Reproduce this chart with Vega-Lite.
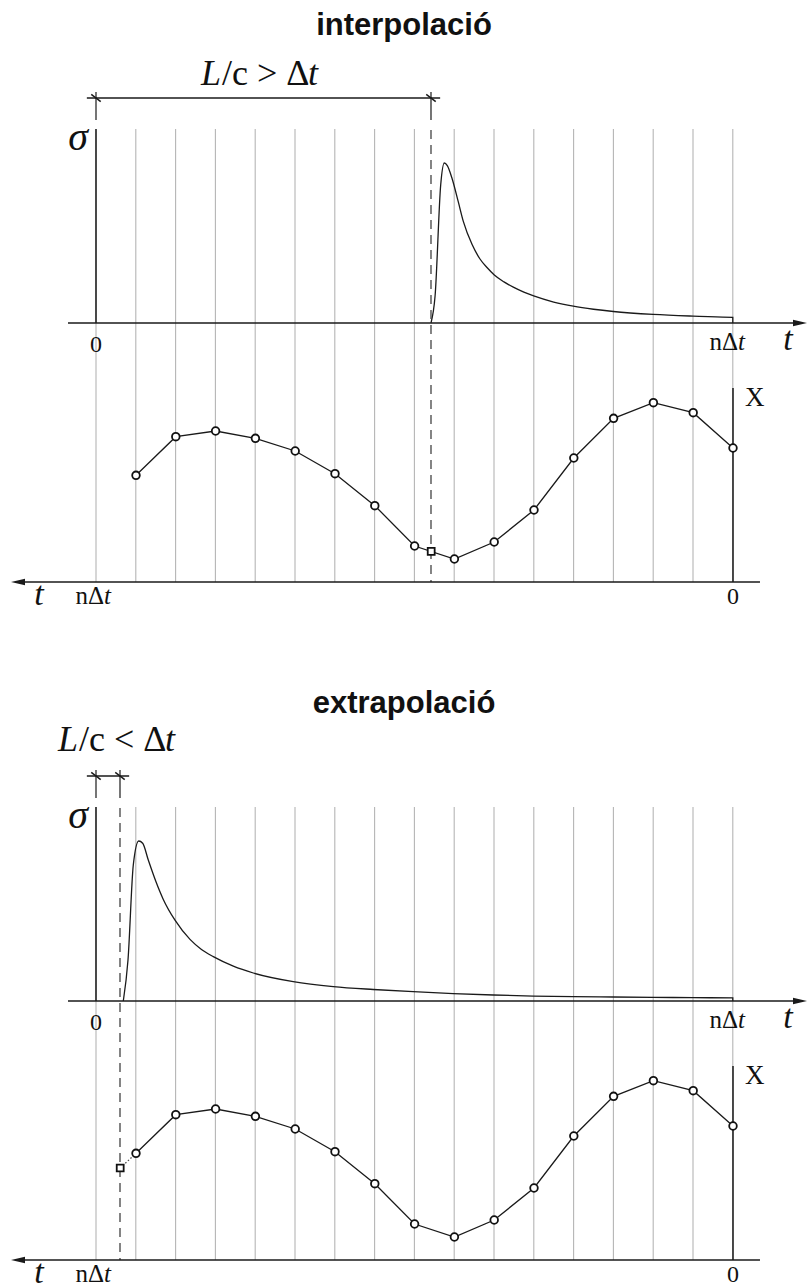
{
  "$schema": "https://vega.github.io/schema/vega-lite/v6.json",
  "padding": 0,
  "background": "white",
  "spacing": 68,
  "bounds": "flush",
  "config": {"view": {"stroke": null}},
  "datasets": {
    "grid": [{"t":0},{"t":1},{"t":2},{"t":3},{"t":4},{"t":5},{"t":6},{"t":7},{"t":8},{"t":9},{"t":10},{"t":11},{"t":12},{"t":13},{"t":14},{"t":15},{"t":16}],
    "history": [
      {"k":0,"v":0.67},{"k":1,"v":0.8465},{"k":2,"v":0.8965},{"k":3,"v":0.8185},
      {"k":4,"v":0.62},{"k":5,"v":0.36},{"k":6,"v":0.2},{"k":7,"v":0.115},
      {"k":8,"v":0.18},{"k":9,"v":0.3815},{"k":10,"v":0.5415},{"k":11,"v":0.655},
      {"k":12,"v":0.7185},{"k":13,"v":0.755},{"k":14,"v":0.7265},{"k":15,"v":0.5335}
    ],
    "pulse_interp": [
      {"i":0,"t":8.417,"s":0},{"i":1,"t":8.52,"s":0.17},{"i":2,"t":8.661,"s":0.864},
      {"i":3,"t":8.751,"s":1.0},{"i":4,"t":8.827,"s":0.983},{"i":5,"t":8.95,"s":0.9},
      {"i":6,"t":9.1,"s":0.76},{"i":7,"t":9.229,"s":0.635},{"i":8,"t":9.45,"s":0.49},
      {"i":9,"t":9.648,"s":0.4},{"i":10,"t":9.83,"s":0.345},{"i":11,"t":10.008,"s":0.3},
      {"i":12,"t":10.25,"s":0.257},{"i":13,"t":10.485,"s":0.224},{"i":14,"t":10.75,"s":0.193},
      {"i":15,"t":10.997,"s":0.169},{"i":16,"t":11.5,"s":0.131},{"i":17,"t":11.992,"s":0.105},
      {"i":18,"t":12.5,"s":0.086},{"i":19,"t":13,"s":0.072},{"i":20,"t":14,"s":0.054},
      {"i":21,"t":15,"s":0.043},{"i":22,"t":16,"s":0.035},{"i":23,"t":16,"s":0}
    ],
    "pulse_extrap": [
      {"i":0,"t":0.686,"s":0},{"i":1,"t":0.804,"s":0.256},{"i":2,"t":0.937,"s":0.85},
      {"i":3,"t":1.073,"s":1.0},{"i":4,"t":1.173,"s":0.986},{"i":5,"t":1.314,"s":0.881},
      {"i":6,"t":1.5,"s":0.75},{"i":7,"t":1.691,"s":0.635},{"i":8,"t":1.985,"s":0.505},
      {"i":9,"t":2.362,"s":0.385},{"i":10,"t":2.65,"s":0.322},{"i":11,"t":2.947,"s":0.277},
      {"i":12,"t":3.45,"s":0.218},{"i":13,"t":3.952,"s":0.175},{"i":14,"t":4.957,"s":0.121},
      {"i":15,"t":5.962,"s":0.09},{"i":16,"t":6.967,"s":0.072},{"i":17,"t":7.972,"s":0.058},
      {"i":18,"t":8.977,"s":0.046},{"i":19,"t":9.982,"s":0.0375},{"i":20,"t":10.987,"s":0.031},
      {"i":21,"t":11.992,"s":0.027},{"i":22,"t":12.997,"s":0.025},{"i":23,"t":14.003,"s":0.023},
      {"i":24,"t":15.008,"s":0.021},{"i":25,"t":16,"s":0.019},{"i":26,"t":16,"s":0}
    ]
  },
  "vconcat": [
    {
      "width": 808,
      "height": 610,
      "resolve": {"scale": {"x": "independent", "y": "independent"}},
      "layer": [
        {"data": {"name": "grid"}, "mark": {"type": "rule", "color": "#b5b5b5", "strokeWidth": 1.1},
         "encoding": {"x": {"field": "t", "type": "quantitative", "scale": {"domain": [-2.41206, 17.88945], "nice": false, "zero": false}, "axis": null},
                      "y": {"datum": 1.2125, "type": "quantitative", "scale": {"domain": [-1.79375, 2.01875], "nice": false, "zero": false}, "axis": null},
                      "y2": {"datum": -1.61875}}},
        {"data": {"values": [{}]}, "mark": {"type": "rule", "color": "#1a1a1a", "strokeWidth": 1.5},
         "encoding": {"x": {"datum": 0, "type": "quantitative", "scale": {"domain": [-2.41206, 17.88945], "nice": false, "zero": false}, "axis": null},
                      "y": {"datum": 0, "type": "quantitative", "scale": {"domain": [-1.79375, 2.01875], "nice": false, "zero": false}, "axis": null},
                      "y2": {"datum": 1.2125}}},
        {"data": {"values": [{}]}, "mark": {"type": "rule", "color": "#1a1a1a", "strokeWidth": 1.5},
         "encoding": {"x": {"datum": -0.7035, "type": "quantitative", "scale": {"domain": [-2.41206, 17.88945], "nice": false, "zero": false}, "axis": null},
                      "x2": {"datum": 17.6},
                      "y": {"datum": 0, "type": "quantitative", "scale": {"domain": [-1.79375, 2.01875], "nice": false, "zero": false}, "axis": null}}},
        {"data": {"values": [{}]}, "mark": {"type": "point", "shape": "M1,0L-1,-0.45L-1,0.45Z", "filled": true, "color": "#1a1a1a", "opacity": 1, "size": 196},
         "encoding": {"x": {"datum": 17.688, "type": "quantitative", "scale": {"domain": [-2.41206, 17.88945], "nice": false, "zero": false}, "axis": null},
                      "y": {"datum": 0, "type": "quantitative", "scale": {"domain": [-1.79375, 2.01875], "nice": false, "zero": false}, "axis": null}}},
        {"data": {"name": "pulse_interp"}, "mark": {"type": "line", "color": "#1a1a1a", "strokeWidth": 1.3, "interpolate": "monotone"},
         "encoding": {"x": {"field": "t", "type": "quantitative", "scale": {"domain": [-2.41206, 17.88945], "nice": false, "zero": false}, "axis": null},
                      "y": {"field": "s", "type": "quantitative", "scale": {"domain": [-1.79375, 2.01875], "nice": false, "zero": false}, "axis": null},
                      "order": {"field": "i", "type": "quantitative"}}},
        {"data": {"values": [{}]}, "mark": {"type": "rule", "color": "#333333", "strokeWidth": 1.2, "strokeDash": [9, 6]},
         "encoding": {"x": {"datum": 8.417, "type": "quantitative", "scale": {"domain": [-2.41206, 17.88945], "nice": false, "zero": false}, "axis": null},
                      "y": {"datum": 1.20625, "type": "quantitative", "scale": {"domain": [-1.79375, 2.01875], "nice": false, "zero": false}, "axis": null},
                      "y2": {"datum": -1.61875}}},
        {"data": {"values": [{"t": 0}, {"t": 8.417}]}, "mark": {"type": "rule", "color": "#1a1a1a", "strokeWidth": 1.2},
         "encoding": {"x": {"field": "t", "type": "quantitative", "scale": {"domain": [-2.41206, 17.88945], "nice": false, "zero": false}, "axis": null},
                      "y": {"datum": 1.44375, "type": "quantitative", "scale": {"domain": [-1.79375, 2.01875], "nice": false, "zero": false}, "axis": null},
                      "y2": {"datum": 1.26875}}},
        {"data": {"values": [{}]}, "mark": {"type": "rule", "color": "#1a1a1a", "strokeWidth": 1.3},
         "encoding": {"x": {"datum": -0.23, "type": "quantitative", "scale": {"domain": [-2.41206, 17.88945], "nice": false, "zero": false}, "axis": null},
                      "x2": {"datum": 8.647},
                      "y": {"datum": 1.40625, "type": "quantitative", "scale": {"domain": [-1.79375, 2.01875], "nice": false, "zero": false}, "axis": null}}},
        {"data": {"values": [{"t": 0}, {"t": 8.417}]}, "mark": {"type": "point", "shape": "M-1,-0.75L1,0.75", "filled": false, "color": "#1a1a1a", "opacity": 1, "strokeWidth": 1.5, "size": 90},
         "encoding": {"x": {"field": "t", "type": "quantitative", "scale": {"domain": [-2.41206, 17.88945], "nice": false, "zero": false}, "axis": null},
                      "y": {"datum": 1.40625, "type": "quantitative", "scale": {"domain": [-1.79375, 2.01875], "nice": false, "zero": false}, "axis": null}}},
        {"data": {"values": [{}]}, "mark": {"type": "rule", "color": "#1a1a1a", "strokeWidth": 1.5},
         "encoding": {"x": {"datum": 17.965, "type": "quantitative", "scale": {"domain": [-1.88442, 18.41709], "reverse": true, "nice": false, "zero": false}, "axis": null},
                      "x2": {"datum": -0.678},
                      "y": {"datum": 0, "type": "quantitative", "scale": {"domain": [-0.14, 2.91], "nice": false, "zero": false}, "axis": null}}},
        {"data": {"values": [{}]}, "mark": {"type": "point", "shape": "M-1,0L1,-0.45L1,0.45Z", "filled": true, "color": "#1a1a1a", "opacity": 1, "size": 196},
         "encoding": {"x": {"datum": 17.965, "type": "quantitative", "scale": {"domain": [-1.88442, 18.41709], "reverse": true, "nice": false, "zero": false}, "axis": null},
                      "y": {"datum": 0, "type": "quantitative", "scale": {"domain": [-0.14, 2.91], "nice": false, "zero": false}, "axis": null}}},
        {"data": {"values": [{}]}, "mark": {"type": "rule", "color": "#1a1a1a", "strokeWidth": 1.5},
         "encoding": {"x": {"datum": 0, "type": "quantitative", "scale": {"domain": [-1.88442, 18.41709], "reverse": true, "nice": false, "zero": false}, "axis": null},
                      "y": {"datum": 0, "type": "quantitative", "scale": {"domain": [-0.14, 2.91], "nice": false, "zero": false}, "axis": null},
                      "y2": {"datum": 0.97}}},
        {"data": {"name": "history"}, "mark": {"type": "line", "color": "#1a1a1a", "strokeWidth": 1.3},
         "encoding": {"x": {"field": "k", "type": "quantitative", "scale": {"domain": [-1.88442, 18.41709], "reverse": true, "nice": false, "zero": false}, "axis": null},
                      "y": {"field": "v", "type": "quantitative", "scale": {"domain": [-0.14, 2.91], "nice": false, "zero": false}, "axis": null}}},
        {"data": {"name": "history"}, "mark": {"type": "point", "shape": "circle", "filled": true, "fill": "white", "stroke": "#111111", "strokeWidth": 1.8, "opacity": 1, "size": 58},
         "encoding": {"x": {"field": "k", "type": "quantitative", "scale": {"domain": [-1.88442, 18.41709], "reverse": true, "nice": false, "zero": false}, "axis": null},
                      "y": {"field": "v", "type": "quantitative", "scale": {"domain": [-0.14, 2.91], "nice": false, "zero": false}, "axis": null}}},
        {"data": {"values": [{"k": 7.583, "v": 0.153}]}, "mark": {"type": "point", "shape": "square", "filled": true, "fill": "white", "stroke": "#111111", "strokeWidth": 1.8, "opacity": 1, "size": 48},
         "encoding": {"x": {"field": "k", "type": "quantitative", "scale": {"domain": [-1.88442, 18.41709], "reverse": true, "nice": false, "zero": false}, "axis": null},
                      "y": {"field": "v", "type": "quantitative", "scale": {"domain": [-0.14, 2.91], "nice": false, "zero": false}, "axis": null}}},
        {"data": {"values": [{}]}, "mark": {"type": "text", "text": "interpolació", "font": "Liberation Sans", "fontWeight": "bold", "fontSize": 31, "align": "center", "baseline": "alphabetic", "color": "#111111"},
         "encoding": {"x": {"datum": 7.739, "type": "quantitative", "scale": {"domain": [-2.41206, 17.88945], "nice": false, "zero": false}, "axis": null},
                      "y": {"datum": 1.8, "type": "quantitative", "scale": {"domain": [-1.79375, 2.01875], "nice": false, "zero": false}, "axis": null}}},
        {"data": {"values": [{}]}, "mark": {"type": "text", "text": "L", "font": "Liberation Serif", "fontStyle": "italic", "fontSize": 36, "align": "left", "baseline": "alphabetic", "color": "#111111"},
         "encoding": {"x": {"datum": 2.64, "type": "quantitative", "scale": {"domain": [-2.41206, 17.88945], "nice": false, "zero": false}, "axis": null},
                      "y": {"datum": 1.49, "type": "quantitative", "scale": {"domain": [-1.79375, 2.01875], "nice": false, "zero": false}, "axis": null}}},
        {"data": {"values": [{}]}, "mark": {"type": "text", "text": "/c > Δ", "font": "Liberation Serif", "fontSize": 36, "align": "left", "baseline": "alphabetic", "dx": 21, "color": "#111111"},
         "encoding": {"x": {"datum": 2.64, "type": "quantitative", "scale": {"domain": [-2.41206, 17.88945], "nice": false, "zero": false}, "axis": null},
                      "y": {"datum": 1.49, "type": "quantitative", "scale": {"domain": [-1.79375, 2.01875], "nice": false, "zero": false}, "axis": null}}},
        {"data": {"values": [{}]}, "mark": {"type": "text", "text": "t", "font": "Liberation Serif", "fontStyle": "italic", "fontSize": 36, "align": "left", "baseline": "alphabetic", "dx": 107, "color": "#111111"},
         "encoding": {"x": {"datum": 2.64, "type": "quantitative", "scale": {"domain": [-2.41206, 17.88945], "nice": false, "zero": false}, "axis": null},
                      "y": {"datum": 1.49, "type": "quantitative", "scale": {"domain": [-1.79375, 2.01875], "nice": false, "zero": false}, "axis": null}}},
        {"data": {"values": [{}]}, "mark": {"type": "text", "text": "σ", "font": "Liberation Serif", "fontStyle": "italic", "fontSize": 40, "align": "right", "baseline": "alphabetic", "color": "#111111"},
         "encoding": {"x": {"datum": -0.201, "type": "quantitative", "scale": {"domain": [-2.41206, 17.88945], "nice": false, "zero": false}, "axis": null},
                      "y": {"datum": 1.08125, "type": "quantitative", "scale": {"domain": [-1.79375, 2.01875], "nice": false, "zero": false}, "axis": null}}},
        {"data": {"values": [{}]}, "mark": {"type": "text", "text": "0", "font": "Liberation Serif", "fontSize": 24, "align": "center", "baseline": "alphabetic", "color": "#111111"},
         "encoding": {"x": {"datum": 0, "type": "quantitative", "scale": {"domain": [-2.41206, 17.88945], "nice": false, "zero": false}, "axis": null},
                      "y": {"datum": -0.18125, "type": "quantitative", "scale": {"domain": [-1.79375, 2.01875], "nice": false, "zero": false}, "axis": null}}},
        {"data": {"values": [{}]}, "mark": {"type": "text", "text": "nΔ", "font": "Liberation Serif", "fontSize": 25, "align": "right", "baseline": "alphabetic", "color": "#111111"},
         "encoding": {"x": {"datum": 16.131, "type": "quantitative", "scale": {"domain": [-2.41206, 17.88945], "nice": false, "zero": false}, "axis": null},
                      "y": {"datum": -0.16875, "type": "quantitative", "scale": {"domain": [-1.79375, 2.01875], "nice": false, "zero": false}, "axis": null}}},
        {"data": {"values": [{}]}, "mark": {"type": "text", "text": "t", "font": "Liberation Serif", "fontStyle": "italic", "fontSize": 25, "align": "left", "baseline": "alphabetic", "color": "#111111"},
         "encoding": {"x": {"datum": 16.131, "type": "quantitative", "scale": {"domain": [-2.41206, 17.88945], "nice": false, "zero": false}, "axis": null},
                      "y": {"datum": -0.16875, "type": "quantitative", "scale": {"domain": [-1.79375, 2.01875], "nice": false, "zero": false}, "axis": null}}},
        {"data": {"values": [{}]}, "mark": {"type": "text", "text": "t", "font": "Liberation Serif", "fontStyle": "italic", "fontSize": 34, "align": "center", "baseline": "alphabetic", "color": "#111111"},
         "encoding": {"x": {"datum": 17.387, "type": "quantitative", "scale": {"domain": [-2.41206, 17.88945], "nice": false, "zero": false}, "axis": null},
                      "y": {"datum": -0.16875, "type": "quantitative", "scale": {"domain": [-1.79375, 2.01875], "nice": false, "zero": false}, "axis": null}}},
        {"data": {"values": [{}]}, "mark": {"type": "text", "text": "t", "font": "Liberation Serif", "fontStyle": "italic", "fontSize": 34, "align": "center", "baseline": "alphabetic", "color": "#111111"},
         "encoding": {"x": {"datum": 17.437, "type": "quantitative", "scale": {"domain": [-1.88442, 18.41709], "reverse": true, "nice": false, "zero": false}, "axis": null},
                      "y": {"datum": -0.115, "type": "quantitative", "scale": {"domain": [-0.14, 2.91], "nice": false, "zero": false}, "axis": null}}},
        {"data": {"values": [{}]}, "mark": {"type": "text", "text": "nΔ", "font": "Liberation Serif", "fontSize": 25, "align": "right", "baseline": "alphabetic", "color": "#111111"},
         "encoding": {"x": {"datum": 15.804, "type": "quantitative", "scale": {"domain": [-1.88442, 18.41709], "reverse": true, "nice": false, "zero": false}, "axis": null},
                      "y": {"datum": -0.11, "type": "quantitative", "scale": {"domain": [-0.14, 2.91], "nice": false, "zero": false}, "axis": null}}},
        {"data": {"values": [{}]}, "mark": {"type": "text", "text": "t", "font": "Liberation Serif", "fontStyle": "italic", "fontSize": 25, "align": "left", "baseline": "alphabetic", "color": "#111111"},
         "encoding": {"x": {"datum": 15.804, "type": "quantitative", "scale": {"domain": [-1.88442, 18.41709], "reverse": true, "nice": false, "zero": false}, "axis": null},
                      "y": {"datum": -0.11, "type": "quantitative", "scale": {"domain": [-0.14, 2.91], "nice": false, "zero": false}, "axis": null}}},
        {"data": {"values": [{}]}, "mark": {"type": "text", "text": "0", "font": "Liberation Serif", "fontSize": 24, "align": "center", "baseline": "alphabetic", "color": "#111111"},
         "encoding": {"x": {"datum": 0, "type": "quantitative", "scale": {"domain": [-1.88442, 18.41709], "reverse": true, "nice": false, "zero": false}, "axis": null},
                      "y": {"datum": -0.11, "type": "quantitative", "scale": {"domain": [-0.14, 2.91], "nice": false, "zero": false}, "axis": null}}},
        {"data": {"values": [{}]}, "mark": {"type": "text", "text": "X", "font": "Liberation Serif", "fontSize": 27, "align": "left", "baseline": "alphabetic", "color": "#111111"},
         "encoding": {"x": {"datum": -0.3015, "type": "quantitative", "scale": {"domain": [-1.88442, 18.41709], "reverse": true, "nice": false, "zero": false}, "axis": null},
                      "y": {"datum": 0.88, "type": "quantitative", "scale": {"domain": [-0.14, 2.91], "nice": false, "zero": false}, "axis": null}}}
      ]
    },
    {
      "width": 808,
      "height": 610,
      "resolve": {"scale": {"x": "independent", "y": "independent"}},
      "layer": [
        {"data": {"name": "grid"}, "mark": {"type": "rule", "color": "#b5b5b5", "strokeWidth": 1.1},
         "encoding": {"x": {"field": "t", "type": "quantitative", "scale": {"domain": [-2.41206, 17.88945], "nice": false, "zero": false}, "axis": null},
                      "y": {"datum": 1.2125, "type": "quantitative", "scale": {"domain": [-1.79375, 2.01875], "nice": false, "zero": false}, "axis": null},
                      "y2": {"datum": -1.61875}}},
        {"data": {"values": [{}]}, "mark": {"type": "rule", "color": "#1a1a1a", "strokeWidth": 1.5},
         "encoding": {"x": {"datum": 0, "type": "quantitative", "scale": {"domain": [-2.41206, 17.88945], "nice": false, "zero": false}, "axis": null},
                      "y": {"datum": 0, "type": "quantitative", "scale": {"domain": [-1.79375, 2.01875], "nice": false, "zero": false}, "axis": null},
                      "y2": {"datum": 1.2125}}},
        {"data": {"values": [{}]}, "mark": {"type": "rule", "color": "#1a1a1a", "strokeWidth": 1.5},
         "encoding": {"x": {"datum": -0.7035, "type": "quantitative", "scale": {"domain": [-2.41206, 17.88945], "nice": false, "zero": false}, "axis": null},
                      "x2": {"datum": 17.6},
                      "y": {"datum": 0, "type": "quantitative", "scale": {"domain": [-1.79375, 2.01875], "nice": false, "zero": false}, "axis": null}}},
        {"data": {"values": [{}]}, "mark": {"type": "point", "shape": "M1,0L-1,-0.45L-1,0.45Z", "filled": true, "color": "#1a1a1a", "opacity": 1, "size": 196},
         "encoding": {"x": {"datum": 17.688, "type": "quantitative", "scale": {"domain": [-2.41206, 17.88945], "nice": false, "zero": false}, "axis": null},
                      "y": {"datum": 0, "type": "quantitative", "scale": {"domain": [-1.79375, 2.01875], "nice": false, "zero": false}, "axis": null}}},
        {"data": {"name": "pulse_extrap"}, "mark": {"type": "line", "color": "#1a1a1a", "strokeWidth": 1.3, "interpolate": "monotone"},
         "encoding": {"x": {"field": "t", "type": "quantitative", "scale": {"domain": [-2.41206, 17.88945], "nice": false, "zero": false}, "axis": null},
                      "y": {"field": "s", "type": "quantitative", "scale": {"domain": [-1.79375, 2.01875], "nice": false, "zero": false}, "axis": null},
                      "order": {"field": "i", "type": "quantitative"}}},
        {"data": {"values": [{}]}, "mark": {"type": "rule", "color": "#333333", "strokeWidth": 1.2, "strokeDash": [9, 6]},
         "encoding": {"x": {"datum": 0.603, "type": "quantitative", "scale": {"domain": [-2.41206, 17.88945], "nice": false, "zero": false}, "axis": null},
                      "y": {"datum": 1.20625, "type": "quantitative", "scale": {"domain": [-1.79375, 2.01875], "nice": false, "zero": false}, "axis": null},
                      "y2": {"datum": -1.61875}}},
        {"data": {"values": [{"t": 0}, {"t": 0.603}]}, "mark": {"type": "rule", "color": "#1a1a1a", "strokeWidth": 1.2},
         "encoding": {"x": {"field": "t", "type": "quantitative", "scale": {"domain": [-2.41206, 17.88945], "nice": false, "zero": false}, "axis": null},
                      "y": {"datum": 1.44375, "type": "quantitative", "scale": {"domain": [-1.79375, 2.01875], "nice": false, "zero": false}, "axis": null},
                      "y2": {"datum": 1.26875}}},
        {"data": {"values": [{}]}, "mark": {"type": "rule", "color": "#1a1a1a", "strokeWidth": 1.3},
         "encoding": {"x": {"datum": -0.23, "type": "quantitative", "scale": {"domain": [-2.41206, 17.88945], "nice": false, "zero": false}, "axis": null},
                      "x2": {"datum": 0.833},
                      "y": {"datum": 1.40625, "type": "quantitative", "scale": {"domain": [-1.79375, 2.01875], "nice": false, "zero": false}, "axis": null}}},
        {"data": {"values": [{"t": 0}, {"t": 0.603}]}, "mark": {"type": "point", "shape": "M-1,-0.75L1,0.75", "filled": false, "color": "#1a1a1a", "opacity": 1, "strokeWidth": 1.5, "size": 90},
         "encoding": {"x": {"field": "t", "type": "quantitative", "scale": {"domain": [-2.41206, 17.88945], "nice": false, "zero": false}, "axis": null},
                      "y": {"datum": 1.40625, "type": "quantitative", "scale": {"domain": [-1.79375, 2.01875], "nice": false, "zero": false}, "axis": null}}},
        {"data": {"values": [{}]}, "mark": {"type": "rule", "color": "#1a1a1a", "strokeWidth": 1.5},
         "encoding": {"x": {"datum": 17.965, "type": "quantitative", "scale": {"domain": [-1.88442, 18.41709], "reverse": true, "nice": false, "zero": false}, "axis": null},
                      "x2": {"datum": -0.678},
                      "y": {"datum": 0, "type": "quantitative", "scale": {"domain": [-0.14, 2.91], "nice": false, "zero": false}, "axis": null}}},
        {"data": {"values": [{}]}, "mark": {"type": "point", "shape": "M-1,0L1,-0.45L1,0.45Z", "filled": true, "color": "#1a1a1a", "opacity": 1, "size": 196},
         "encoding": {"x": {"datum": 17.965, "type": "quantitative", "scale": {"domain": [-1.88442, 18.41709], "reverse": true, "nice": false, "zero": false}, "axis": null},
                      "y": {"datum": 0, "type": "quantitative", "scale": {"domain": [-0.14, 2.91], "nice": false, "zero": false}, "axis": null}}},
        {"data": {"values": [{}]}, "mark": {"type": "rule", "color": "#1a1a1a", "strokeWidth": 1.5},
         "encoding": {"x": {"datum": 0, "type": "quantitative", "scale": {"domain": [-1.88442, 18.41709], "reverse": true, "nice": false, "zero": false}, "axis": null},
                      "y": {"datum": 0, "type": "quantitative", "scale": {"domain": [-0.14, 2.91], "nice": false, "zero": false}, "axis": null},
                      "y2": {"datum": 0.97}}},
        {"data": {"values": [{"k": 15, "v": 0.5335}, {"k": 15.397, "v": 0.46}]}, "mark": {"type": "line", "color": "#444444", "strokeWidth": 1.2, "strokeDash": [1.5, 2]},
         "encoding": {"x": {"field": "k", "type": "quantitative", "scale": {"domain": [-1.88442, 18.41709], "reverse": true, "nice": false, "zero": false}, "axis": null},
                      "y": {"field": "v", "type": "quantitative", "scale": {"domain": [-0.14, 2.91], "nice": false, "zero": false}, "axis": null}}},
        {"data": {"name": "history"}, "mark": {"type": "line", "color": "#1a1a1a", "strokeWidth": 1.3},
         "encoding": {"x": {"field": "k", "type": "quantitative", "scale": {"domain": [-1.88442, 18.41709], "reverse": true, "nice": false, "zero": false}, "axis": null},
                      "y": {"field": "v", "type": "quantitative", "scale": {"domain": [-0.14, 2.91], "nice": false, "zero": false}, "axis": null}}},
        {"data": {"name": "history"}, "mark": {"type": "point", "shape": "circle", "filled": true, "fill": "white", "stroke": "#111111", "strokeWidth": 1.8, "opacity": 1, "size": 58},
         "encoding": {"x": {"field": "k", "type": "quantitative", "scale": {"domain": [-1.88442, 18.41709], "reverse": true, "nice": false, "zero": false}, "axis": null},
                      "y": {"field": "v", "type": "quantitative", "scale": {"domain": [-0.14, 2.91], "nice": false, "zero": false}, "axis": null}}},
        {"data": {"values": [{"k": 15.397, "v": 0.46}]}, "mark": {"type": "point", "shape": "square", "filled": true, "fill": "white", "stroke": "#111111", "strokeWidth": 1.8, "opacity": 1, "size": 48},
         "encoding": {"x": {"field": "k", "type": "quantitative", "scale": {"domain": [-1.88442, 18.41709], "reverse": true, "nice": false, "zero": false}, "axis": null},
                      "y": {"field": "v", "type": "quantitative", "scale": {"domain": [-0.14, 2.91], "nice": false, "zero": false}, "axis": null}}},
        {"data": {"values": [{}]}, "mark": {"type": "text", "text": "extrapolació", "font": "Liberation Sans", "fontWeight": "bold", "fontSize": 31, "align": "center", "baseline": "alphabetic", "color": "#111111"},
         "encoding": {"x": {"datum": 7.739, "type": "quantitative", "scale": {"domain": [-2.41206, 17.88945], "nice": false, "zero": false}, "axis": null},
                      "y": {"datum": 1.8, "type": "quantitative", "scale": {"domain": [-1.79375, 2.01875], "nice": false, "zero": false}, "axis": null}}},
        {"data": {"values": [{}]}, "mark": {"type": "text", "text": "L", "font": "Liberation Serif", "fontStyle": "italic", "fontSize": 36, "align": "left", "baseline": "alphabetic", "color": "#111111"},
         "encoding": {"x": {"datum": -0.9548, "type": "quantitative", "scale": {"domain": [-2.41206, 17.88945], "nice": false, "zero": false}, "axis": null},
                      "y": {"datum": 1.5625, "type": "quantitative", "scale": {"domain": [-1.79375, 2.01875], "nice": false, "zero": false}, "axis": null}}},
        {"data": {"values": [{}]}, "mark": {"type": "text", "text": "/c < Δ", "font": "Liberation Serif", "fontSize": 36, "align": "left", "baseline": "alphabetic", "dx": 21, "color": "#111111"},
         "encoding": {"x": {"datum": -0.9548, "type": "quantitative", "scale": {"domain": [-2.41206, 17.88945], "nice": false, "zero": false}, "axis": null},
                      "y": {"datum": 1.5625, "type": "quantitative", "scale": {"domain": [-1.79375, 2.01875], "nice": false, "zero": false}, "axis": null}}},
        {"data": {"values": [{}]}, "mark": {"type": "text", "text": "t", "font": "Liberation Serif", "fontStyle": "italic", "fontSize": 36, "align": "left", "baseline": "alphabetic", "dx": 107, "color": "#111111"},
         "encoding": {"x": {"datum": -0.9548, "type": "quantitative", "scale": {"domain": [-2.41206, 17.88945], "nice": false, "zero": false}, "axis": null},
                      "y": {"datum": 1.5625, "type": "quantitative", "scale": {"domain": [-1.79375, 2.01875], "nice": false, "zero": false}, "axis": null}}},
        {"data": {"values": [{}]}, "mark": {"type": "text", "text": "σ", "font": "Liberation Serif", "fontStyle": "italic", "fontSize": 40, "align": "right", "baseline": "alphabetic", "color": "#111111"},
         "encoding": {"x": {"datum": -0.201, "type": "quantitative", "scale": {"domain": [-2.41206, 17.88945], "nice": false, "zero": false}, "axis": null},
                      "y": {"datum": 1.08125, "type": "quantitative", "scale": {"domain": [-1.79375, 2.01875], "nice": false, "zero": false}, "axis": null}}},
        {"data": {"values": [{}]}, "mark": {"type": "text", "text": "0", "font": "Liberation Serif", "fontSize": 24, "align": "center", "baseline": "alphabetic", "color": "#111111"},
         "encoding": {"x": {"datum": 0, "type": "quantitative", "scale": {"domain": [-2.41206, 17.88945], "nice": false, "zero": false}, "axis": null},
                      "y": {"datum": -0.18125, "type": "quantitative", "scale": {"domain": [-1.79375, 2.01875], "nice": false, "zero": false}, "axis": null}}},
        {"data": {"values": [{}]}, "mark": {"type": "text", "text": "nΔ", "font": "Liberation Serif", "fontSize": 25, "align": "right", "baseline": "alphabetic", "color": "#111111"},
         "encoding": {"x": {"datum": 16.131, "type": "quantitative", "scale": {"domain": [-2.41206, 17.88945], "nice": false, "zero": false}, "axis": null},
                      "y": {"datum": -0.16875, "type": "quantitative", "scale": {"domain": [-1.79375, 2.01875], "nice": false, "zero": false}, "axis": null}}},
        {"data": {"values": [{}]}, "mark": {"type": "text", "text": "t", "font": "Liberation Serif", "fontStyle": "italic", "fontSize": 25, "align": "left", "baseline": "alphabetic", "color": "#111111"},
         "encoding": {"x": {"datum": 16.131, "type": "quantitative", "scale": {"domain": [-2.41206, 17.88945], "nice": false, "zero": false}, "axis": null},
                      "y": {"datum": -0.16875, "type": "quantitative", "scale": {"domain": [-1.79375, 2.01875], "nice": false, "zero": false}, "axis": null}}},
        {"data": {"values": [{}]}, "mark": {"type": "text", "text": "t", "font": "Liberation Serif", "fontStyle": "italic", "fontSize": 34, "align": "center", "baseline": "alphabetic", "color": "#111111"},
         "encoding": {"x": {"datum": 17.387, "type": "quantitative", "scale": {"domain": [-2.41206, 17.88945], "nice": false, "zero": false}, "axis": null},
                      "y": {"datum": -0.16875, "type": "quantitative", "scale": {"domain": [-1.79375, 2.01875], "nice": false, "zero": false}, "axis": null}}},
        {"data": {"values": [{}]}, "mark": {"type": "text", "text": "t", "font": "Liberation Serif", "fontStyle": "italic", "fontSize": 34, "align": "center", "baseline": "alphabetic", "color": "#111111"},
         "encoding": {"x": {"datum": 17.437, "type": "quantitative", "scale": {"domain": [-1.88442, 18.41709], "reverse": true, "nice": false, "zero": false}, "axis": null},
                      "y": {"datum": -0.115, "type": "quantitative", "scale": {"domain": [-0.14, 2.91], "nice": false, "zero": false}, "axis": null}}},
        {"data": {"values": [{}]}, "mark": {"type": "text", "text": "nΔ", "font": "Liberation Serif", "fontSize": 25, "align": "right", "baseline": "alphabetic", "color": "#111111"},
         "encoding": {"x": {"datum": 15.804, "type": "quantitative", "scale": {"domain": [-1.88442, 18.41709], "reverse": true, "nice": false, "zero": false}, "axis": null},
                      "y": {"datum": -0.11, "type": "quantitative", "scale": {"domain": [-0.14, 2.91], "nice": false, "zero": false}, "axis": null}}},
        {"data": {"values": [{}]}, "mark": {"type": "text", "text": "t", "font": "Liberation Serif", "fontStyle": "italic", "fontSize": 25, "align": "left", "baseline": "alphabetic", "color": "#111111"},
         "encoding": {"x": {"datum": 15.804, "type": "quantitative", "scale": {"domain": [-1.88442, 18.41709], "reverse": true, "nice": false, "zero": false}, "axis": null},
                      "y": {"datum": -0.11, "type": "quantitative", "scale": {"domain": [-0.14, 2.91], "nice": false, "zero": false}, "axis": null}}},
        {"data": {"values": [{}]}, "mark": {"type": "text", "text": "0", "font": "Liberation Serif", "fontSize": 24, "align": "center", "baseline": "alphabetic", "color": "#111111"},
         "encoding": {"x": {"datum": 0, "type": "quantitative", "scale": {"domain": [-1.88442, 18.41709], "reverse": true, "nice": false, "zero": false}, "axis": null},
                      "y": {"datum": -0.11, "type": "quantitative", "scale": {"domain": [-0.14, 2.91], "nice": false, "zero": false}, "axis": null}}},
        {"data": {"values": [{}]}, "mark": {"type": "text", "text": "X", "font": "Liberation Serif", "fontSize": 27, "align": "left", "baseline": "alphabetic", "color": "#111111"},
         "encoding": {"x": {"datum": -0.3015, "type": "quantitative", "scale": {"domain": [-1.88442, 18.41709], "reverse": true, "nice": false, "zero": false}, "axis": null},
                      "y": {"datum": 0.88, "type": "quantitative", "scale": {"domain": [-0.14, 2.91], "nice": false, "zero": false}, "axis": null}}}
      ]
    }
  ]
}
